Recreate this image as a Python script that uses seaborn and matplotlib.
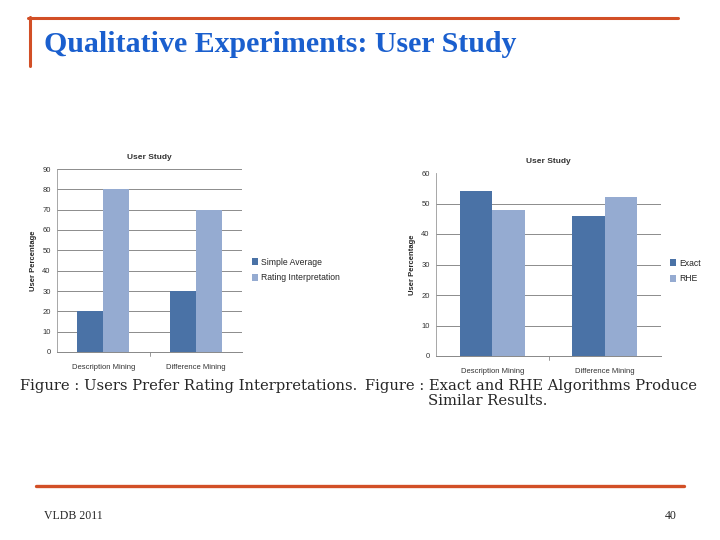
import pandas as pd
import seaborn as sns
import matplotlib.pyplot as plt
from matplotlib.lines import Line2D

# data
categories = ["Description Mining", "Difference Mining"]
left_series = ["Simple Average", "Rating Interpretation"]
simple_average = [20, 30]
rating_interp = [80, 70]
right_series = ["Exact", "RHE"]
exact = [54, 46]
rhe = [48, 52]
left_yticks = list(range(0, 100, 10))
right_yticks = list(range(0, 70, 10))

dark_blue = "#4a72a6"
light_blue = "#95abd1"
orange = "#d24f26"
title_blue = "#1a5fce"

sns.set_style("white")
plt.rcParams['font.family'] = ['Liberation Sans', 'DejaVu Sans']

df_left = pd.DataFrame({
    "category": categories * 2,
    "series": [left_series[0]] * 2 + [left_series[1]] * 2,
    "value": simple_average + rating_interp,
})
df_right = pd.DataFrame({
    "category": categories * 2,
    "series": [right_series[0]] * 2 + [right_series[1]] * 2,
    "value": exact + rhe,
})

fig = plt.figure(figsize=(7.2, 5.4), dpi=100)
W, H = 720, 540


def fx(px):
    return px / W


def fy(py):
    return (H - py) / H


# slide decoration
fig.add_artist(Line2D([fx(28), fx(678)], [fy(18), fy(18)], color=orange, lw=2.2))
fig.add_artist(Line2D([fx(30), fx(30)], [fy(17), fy(66)], color=orange, lw=2.2))
fig.add_artist(Line2D([fx(36), fx(684)], [fy(486), fy(486)], color=orange, lw=2.4))
fig.text(fx(44), fy(45), "Qualitative Experiments: User Study", color=title_blue,
         fontsize=21.5, fontweight="bold", family="Liberation Serif", va="center", ha="left")
fig.text(fx(44), fy(516), "VLDB 2011", fontsize=8.5, family="Liberation Serif", va="center")
fig.text(fx(677), fy(516), "40", fontsize=8.5, family="Liberation Serif", va="center", ha="right")


def draw_chart(ax, df, series, ymax, yticks, bar_width, legend_xy, hide_top_grid):
    sns.barplot(data=df, x="category", y="value", hue="series", hue_order=series,
                order=categories, palette=[dark_blue, light_blue], width=bar_width,
                saturation=1, linewidth=0, edgecolor="none", ax=ax, legend=True)
    ax.set_xlim(-0.5, 1.5)
    ax.set_ylim(0, ymax)
    ax.set_yticks(yticks)
    ax.set_yticklabels([str(t) for t in yticks], fontsize=5.5, color="#333333")
    ax.set_xticks([0, 1])
    ax.set_xticklabels(categories, fontsize=5.5, color="#333333")
    ax.tick_params(axis="x", length=0, pad=8.5)
    ax.tick_params(axis="y", length=3, width=0.6, color="#888888", pad=1.5)
    for t in yticks[1:]:
        if hide_top_grid and t == yticks[-1]:
            continue
        ax.axhline(t, color="#8c8c8c", lw=0.7, zorder=0)
    for side in ["top", "right"]:
        ax.spines[side].set_visible(False)
    ax.spines["left"].set_color("#999999")
    ax.spines["left"].set_linewidth(0.6)
    ax.spines["bottom"].set_color("#888888")
    ax.spines["bottom"].set_linewidth(0.7)
    # category divider tick
    ax.plot([0.5, 0.5], [0, -0.02], transform=ax.get_xaxis_transform(), color="#888888",
            lw=0.6, clip_on=False)
    ax.set_xlabel("")
    ax.set_ylabel("User Percentage", fontsize=5.5, fontweight="bold", labelpad=4)
    ax.set_title("User Study", fontsize=6, fontweight="bold", color="#333333", pad=7)
    handles, labels = ax.get_legend_handles_labels()
    ax.legend(handles, labels, loc="center left", bbox_to_anchor=legend_xy,
              bbox_transform=fig.transFigure, frameon=False, fontsize=6.2,
              handlelength=0.7, handleheight=0.9, handletextpad=0.4, labelspacing=0.8)


ax1 = fig.add_axes([fx(57), fy(352), fx(242) - fx(57), fy(169) - fy(352)])
draw_chart(ax1, df_left, left_series, 90, left_yticks, 0.56, (fx(244), fy(270)), False)

ax2 = fig.add_axes([fx(436), fy(356), fx(661) - fx(436), fy(173) - fy(356)])
draw_chart(ax2, df_right, right_series, 60, right_yticks, 0.58, (fx(662), fy(271)), True)

# captions
fig.text(fx(20), fy(386), "Figure : Users Prefer Rating Interpretations.", fontsize=10.6,
         family="DejaVu Serif", va="center")
fig.text(fx(365), fy(386), "Figure : Exact and RHE Algorithms Produce", fontsize=10.6,
         family="DejaVu Serif", va="center")
fig.text(fx(428), fy(401), "Similar Results.", fontsize=10.6, family="DejaVu Serif",
         va="center")

fig.savefig("out.png", dpi=100)
